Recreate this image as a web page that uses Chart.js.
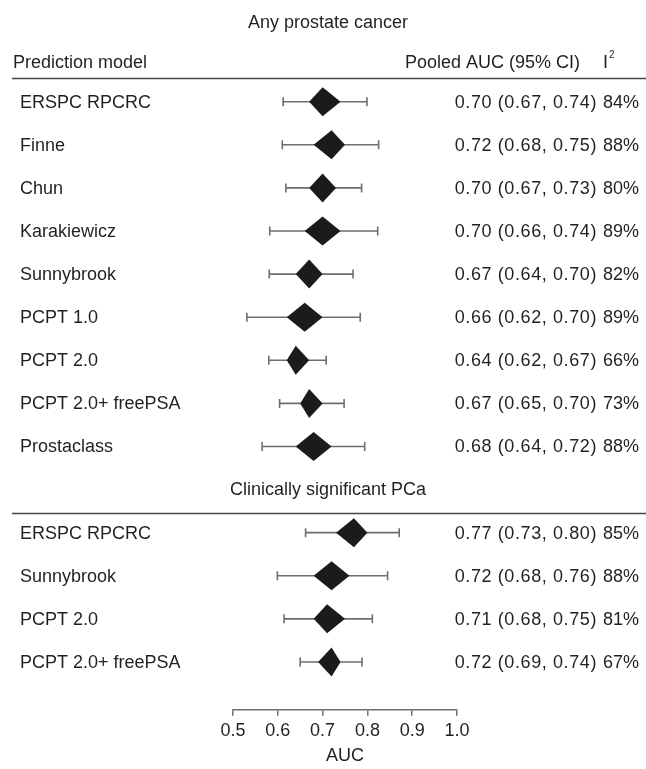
<!DOCTYPE html>
<html>
<head>
<meta charset="utf-8">
<title>Pooled AUC forest plot</title>
<script src="https://cdn.jsdelivr.net/npm/chart.js@4"></script>
<style>
  html, body { margin: 0; padding: 0; background: #fff; }
  #wrap { width: 646px; height: 769px; position: relative; }
</style>
</head>
<body>
<div id="wrap"><canvas id="forest"></canvas></div>
<script>
// --- data ---
const anyModels = ['ERSPC RPCRC', 'Finne', 'Chun', 'Karakiewicz', 'Sunnybrook', 'PCPT 1.0', 'PCPT 2.0', 'PCPT 2.0+ freePSA', 'Prostaclass'];
const anyAuc    = [0.70, 0.72, 0.70, 0.70, 0.67, 0.66, 0.64, 0.67, 0.68];
const anyCiLow  = [0.67, 0.68, 0.67, 0.66, 0.64, 0.62, 0.62, 0.65, 0.64];
const anyCiHigh = [0.74, 0.75, 0.73, 0.74, 0.70, 0.70, 0.67, 0.70, 0.72];
const anyPiLow  = [0.612, 0.610, 0.618, 0.582, 0.581, 0.531, 0.580, 0.604, 0.565];
const anyPiHigh = [0.799, 0.825, 0.787, 0.823, 0.768, 0.784, 0.708, 0.748, 0.794];
const anyI2     = [84, 88, 80, 89, 82, 89, 66, 73, 88];

const csModels  = ['ERSPC RPCRC', 'Sunnybrook', 'PCPT 2.0', 'PCPT 2.0+ freePSA'];
const csAuc     = [0.77, 0.72, 0.71, 0.72];
const csCiLow   = [0.73, 0.68, 0.68, 0.69];
const csCiHigh  = [0.80, 0.76, 0.75, 0.74];
const csPiLow   = [0.662, 0.599, 0.614, 0.650];
const csPiHigh  = [0.871, 0.845, 0.811, 0.788];
const csI2      = [85, 88, 81, 67];

const sectionTitles = ['Any prostate cancer', 'Clinically significant PCa'];
const xTicks = [0.5, 0.6, 0.7, 0.8, 0.9, 1.0];

// --- build rows (section 2 starts after one spare row for its heading) ---
function buildRows(models, auc, lo, hi, plo, phi, i2, start) {
  return models.map((m, i) => ({
    x: auc[i], y: start + i, label: m, ciLo: lo[i], ciHi: hi[i], piLo: plo[i], piHi: phi[i], i2: i2[i]
  }));
}
const rows = buildRows(anyModels, anyAuc, anyCiLow, anyCiHigh, anyPiLow, anyPiHigh, anyI2, 0)
  .concat(buildRows(csModels, csAuc, csCiLow, csCiHigh, csPiLow, csPiHigh, csI2, anyModels.length + 1));

const TXT = '#231f20';
const FONT = '18px "Liberation Sans", Arial, Helvetica, sans-serif';
const f2 = v => v.toFixed(2);

// whiskers, diamonds and the text columns
const forestPlugin = {
  id: 'forest',
  afterDatasetsDraw(chart) {
    const { ctx, scales: { x, y } } = chart;
    const halfH = 14.5, cap = 4.5;
    ctx.save();

    rows.forEach(r => {
      const py = y.getPixelForValue(r.y);
      // prediction interval whisker
      ctx.strokeStyle = '#6d6e71';
      ctx.lineWidth = 1.6;
      ctx.beginPath();
      ctx.moveTo(x.getPixelForValue(r.piLo), py);
      ctx.lineTo(x.getPixelForValue(r.piHi), py);
      [r.piLo, r.piHi].forEach(v => {
        const px = x.getPixelForValue(v);
        ctx.moveTo(px, py - cap);
        ctx.lineTo(px, py + cap);
      });
      ctx.stroke();
      // pooled estimate diamond (width = 95% CI)
      ctx.fillStyle = '#1c1a1b';
      ctx.beginPath();
      ctx.moveTo(x.getPixelForValue(r.ciLo), py);
      ctx.lineTo(x.getPixelForValue(r.x), py - halfH);
      ctx.lineTo(x.getPixelForValue(r.ciHi), py);
      ctx.lineTo(x.getPixelForValue(r.x), py + halfH);
      ctx.closePath();
      ctx.fill();

      // text
      ctx.fillStyle = TXT;
      ctx.font = FONT;
      ctx.textBaseline = 'middle';
      ctx.textAlign = 'left';
      ctx.fillText(r.label, 20, py + 1);
      ctx.textAlign = 'right';
      ctx.fillText(r.i2 + '%', 639, py + 1);
      ctx.letterSpacing = '0.6px';
      ctx.fillText(f2(r.x) + ' (' + f2(r.ciLo) + ', ' + f2(r.ciHi) + ')', 597, py + 1);
      ctx.letterSpacing = '0px';
    });

    // headings
    ctx.fillStyle = TXT;
    ctx.font = FONT;
    ctx.textBaseline = 'middle';
    ctx.textAlign = 'center';
    ctx.fillText(sectionTitles[0], 328, y.getPixelForValue(-1.82));
    ctx.fillText(sectionTitles[1], 328, y.getPixelForValue(anyModels.length));
    ctx.textAlign = 'left';
    const hy = y.getPixelForValue(-0.9);
    ctx.fillText('Prediction model', 13, hy);
    ctx.textAlign = 'right';
    ctx.fillText('Pooled AUC (95% CI)', 580, hy);
    ctx.textAlign = 'left';
    ctx.fillText('I', 603, hy);
    ctx.font = '10px "Liberation Sans", Arial, sans-serif';
    ctx.fillText('2', 609, hy - 8);

    // rules under the headings
    ctx.strokeStyle = '#444';
    ctx.lineWidth = 1.5;
    [-0.55, anyModels.length + 1 - 0.45].forEach(v => {
      const ly = Math.round(y.getPixelForValue(v)) + 0.5;
      ctx.beginPath();
      ctx.moveTo(12, ly);
      ctx.lineTo(646, ly);
      ctx.stroke();
    });
    ctx.restore();
  }
};

new Chart(document.getElementById('forest'), {
  type: 'scatter',
  data: {
    datasets: [{
      data: rows.map(r => ({ x: r.x, y: r.y })),
      pointRadius: 0,
      pointHoverRadius: 0
    }]
  },
  options: {
    responsive: true,
    maintainAspectRatio: false,
    animation: false,
    events: [],
    layout: { padding: { left: 233, right: 189, top: 0, bottom: 0 } },
    plugins: { legend: { display: false }, tooltip: { enabled: false } },
    scales: {
      x: {
        type: 'linear',
        min: 0.5,
        max: 1.0,
        afterBuildTicks: axis => { axis.ticks = xTicks.map(v => ({ value: v })); },
        grid: { drawOnChartArea: false, tickLength: 6, color: '#6d6e71', lineWidth: 1.5 },
        border: { color: '#6d6e71', width: 1.5 },
        ticks: {
          color: TXT,
          padding: 4,
          font: { family: '"Liberation Sans", Arial, sans-serif', size: 18 },
          callback: v => v.toFixed(1)
        },
        title: {
          display: true,
          text: 'AUC',
          color: TXT,
          padding: { top: 0, bottom: 2 },
          font: { family: '"Liberation Sans", Arial, sans-serif', size: 18 }
        }
      },
      y: {
        type: 'linear',
        reverse: true,
        min: -2.36,
        max: 14.11,
        display: false
      }
    }
  },
  plugins: [forestPlugin]
});
</script>
</body>
</html>
